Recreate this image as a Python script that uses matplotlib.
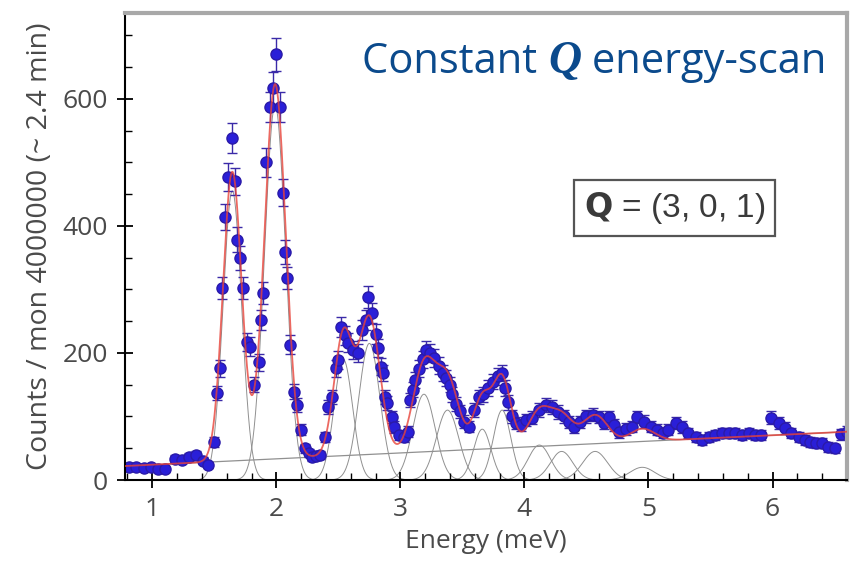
import numpy as np
import matplotlib.pyplot as plt

# measured points (energy in meV, counts)
energy = [0.81, 0.87, 0.93, 0.99, 1.05, 1.10, 1.18, 1.24, 1.30, 1.35, 1.41, 1.45,
          1.50, 1.525, 1.545, 1.565, 1.585, 1.61, 1.64, 1.665, 1.685, 1.705, 1.73,
          1.76, 1.785, 1.82, 1.86, 1.88, 1.895, 1.92, 1.95, 1.97, 2.00, 2.03, 2.05,
          2.07, 2.09, 2.11, 2.14, 2.165, 2.20, 2.23, 2.26, 2.29, 2.32, 2.35, 2.39,
          2.42, 2.45, 2.48, 2.50, 2.52, 2.55, 2.58, 2.62, 2.66, 2.69, 2.72, 2.74,
          2.77, 2.80, 2.82, 2.84, 2.86, 2.875, 2.89, 2.93, 2.95, 2.99, 3.03, 3.06,
          3.08, 3.10, 3.12, 3.15, 3.18, 3.21, 3.24, 3.27, 3.31, 3.34, 3.37, 3.40,
          3.42, 3.45, 3.48, 3.51, 3.55, 3.59, 3.63, 3.67, 3.71, 3.75, 3.79, 3.82,
          3.845, 3.87, 3.90, 3.93, 3.97, 4.01, 4.06, 4.12, 4.17, 4.22, 4.27, 4.32,
          4.36, 4.40, 4.45, 4.50, 4.55, 4.60, 4.64, 4.68, 4.72, 4.76, 4.82, 4.87,
          4.91, 4.96, 5.02, 5.07, 5.12, 5.16, 5.22, 5.27, 5.32, 5.38, 5.43, 5.49,
          5.54, 5.59, 5.65, 5.70, 5.75, 5.81, 5.86, 5.91, 5.99, 6.05, 6.10, 6.15,
          6.21, 6.26, 6.30, 6.35, 6.40, 6.45, 6.50, 6.55, 6.60]
counts = [20, 21, 19, 20, 18, 17, 33, 32, 36, 40, 30, 24,
          60, 137, 176, 302, 414, 477, 538, 470, 378, 350, 302,
          217, 210, 150, 185, 252, 294, 500, 587, 617, 670, 587, 452,
          359, 318, 213, 139, 118, 79, 50, 42, 36, 38, 40, 68,
          115, 131, 176, 189, 241, 228, 216, 205, 200, 236, 252, 288,
          263, 230, 208, 178, 168, 131, 121, 99, 83, 71, 68, 76,
          126, 142, 157, 175, 190, 205, 200, 192, 180, 168, 160, 150,
          135, 120, 108, 92, 84, 110, 131, 135, 145, 155, 163, 168,
          145, 122, 100, 90, 87, 94, 98, 110, 118, 115, 107, 100,
          91, 83, 91, 100, 103, 99, 90, 99, 87, 75, 80, 84,
          99, 92, 84, 79, 74, 79, 90, 83, 74, 68, 63, 68,
          71, 74, 74, 74, 71, 74, 71, 71, 98, 90, 82, 74,
          68, 63, 60, 58, 58, 52, 50, 72, 76]

# fitted gaussian components
peak_centers = [1.645, 1.99, 2.54, 2.75, 3.19, 3.38, 3.66, 3.82, 4.12, 4.30, 4.57, 4.95]
peak_heights = [455, 590, 190, 215, 135, 110, 80, 110, 55, 45, 45, 20]
peak_widths = [0.075, 0.085, 0.075, 0.085, 0.09, 0.09, 0.07, 0.07, 0.09, 0.09, 0.10, 0.10]

# linear background (end points)
bkg_energy = [0.78, 6.6]
bkg_counts = [22, 76]

x_ticks = [1, 2, 3, 4, 5, 6]
y_ticks = [0, 200, 400, 600]

fig = plt.figure(figsize=(8.52, 5.75), dpi=100)
ax = fig.add_axes([0.1467, 0.1652, 0.8474, 0.8122])

e = np.array(energy)
c = np.array(counts)
grid = np.linspace(0.78, 6.6, 1500)
bkg = np.interp(grid, bkg_energy, bkg_counts)
fit = bkg.copy()
for x0, h, s in zip(peak_centers, peak_heights, peak_widths):
    comp = h * np.exp(-(grid - x0) ** 2 / (2 * s ** 2))
    fit += comp
    ax.plot(grid, comp, color="#909090", lw=0.7, zorder=1)
ax.plot(bkg_energy, bkg_counts, color="#909090", lw=0.9, zorder=1)

ax.errorbar(e, c, yerr=np.sqrt(c), fmt="o", ms=8, mfc="#2a1fd8", mec="#2a1aa8",
            ecolor="#3a2aa8", elinewidth=1.0, capsize=3.5, capthick=1.0, zorder=2)
ax.plot(grid, fit, color="#e8433a", lw=1.3, alpha=0.8, zorder=3)

ax.set_xlim(0.78, 6.6)
ax.set_ylim(0, 735)
ax.set_xticks(x_ticks)
ax.set_yticks(y_ticks)
ax.set_xticks(np.arange(0.8, 6.61, 0.2), minor=True)
ax.set_yticks(np.arange(0, 735, 50), minor=True)

ax.tick_params(which="major", direction="inout", length=11, width=1.3, pad=7)
ax.tick_params(which="minor", direction="in", length=5, width=1.0)
for lab in ax.get_xticklabels() + ax.get_yticklabels():
    lab.set_fontfamily("Open Sans")
    lab.set_fontsize(19)
    lab.set_color("#4a4a4a")

for side in ["left", "bottom"]:
    ax.spines[side].set_linewidth(1.5)
    ax.spines[side].set_color("black")
for side in ["top", "right"]:
    ax.spines[side].set_linewidth(3)
    ax.spines[side].set_color("#a8a8a8")

ax.set_xlabel("Energy (meV)", family="Open Sans", size=19, color="#4a4a4a", labelpad=5)
ax.set_ylabel("Counts / mon 4000000 (~ 2.4 min)", family="Open Sans", size=20.5,
              color="#4a4a4a", labelpad=6)

# title with bold italic Q
t1 = fig.text(362 / 852, 1 - 73 / 575, "Constant ", family="Open Sans", size=30,
              color="#0b4a8c", va="baseline", ha="left")
t2 = ax.annotate("Q", xy=(1, 0), xycoords=t1, va="bottom", ha="left",
                 family="Liberation Serif", weight="bold", style="italic",
                 size=33, color="#0b4a8c")
ax.annotate(" energy-scan", xy=(1, 0), xycoords=t2, va="bottom", ha="left",
            family="Open Sans", size=30, color="#0b4a8c")

# Q label box
ax.text(0.761, 0.582, r"$\mathbf{Q}$ = (3, 0, 1)", transform=ax.transAxes,
        ha="center", va="center", family="Liberation Sans", size=24, color="#3a3a3a",
        bbox=dict(boxstyle="square,pad=0.3", fc="white", ec="#555555", lw=1.6))

fig.savefig("out.png", dpi=100)
